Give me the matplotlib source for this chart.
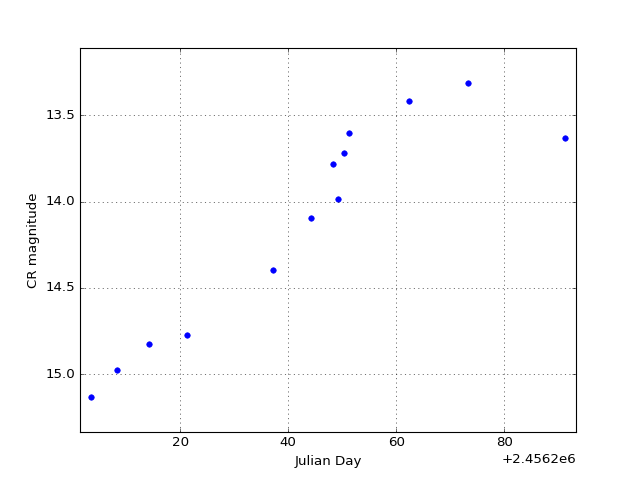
import numpy as np
import matplotlib
matplotlib.use('Agg')
import matplotlib.pyplot as plt

plt.style.use('classic')

jd_offset = 2456200.0
days = np.array([3.41, 8.33, 14.26, 21.24, 37.22, 44.20, 49.26, 48.28,
                 50.37, 51.24, 62.30, 73.28, 91.24])
mag = np.array([15.135, 14.977, 14.828, 14.776, 14.395, 14.097, 13.985,
                13.782, 13.720, 13.601, 13.419, 13.311, 13.633])

jd = jd_offset + days

fig = plt.figure(figsize=(8, 6), dpi=80)
ax = fig.add_subplot(111)
ax.plot(jd, mag, 'o', color='blue', markeredgecolor='blue', markersize=5)
ax.set_xlim(jd_offset + 1.43, jd_offset + 93.28)
ax.set_ylim(15.336, 13.11)
ax.set_xlabel('Julian Day')
ax.set_ylabel('CR magnitude')
ax.grid(True)
fig.savefig('out.png', dpi=80)
